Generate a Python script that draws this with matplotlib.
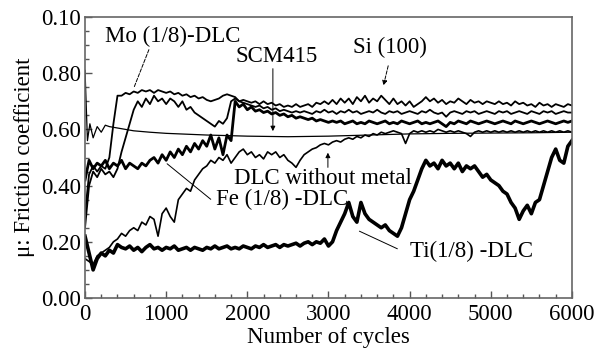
import matplotlib
matplotlib.use('Agg')
import matplotlib.pyplot as plt
import numpy as np
from matplotlib.ticker import MultipleLocator, FixedLocator, FixedFormatter

plt.rcParams['font.family'] = ['Liberation Serif', 'DejaVu Serif']

# sliding cycles, one reading every 50 cycles
cycles = np.arange(0, 6001, 50)

ti = [0.22, 0.16, 0.10, 0.14, 0.16, 0.15, 0.17, 0.16, 0.19, 0.18,
      0.175, 0.185, 0.17, 0.18, 0.165, 0.18, 0.19, 0.175, 0.18, 0.17,
      0.18, 0.175, 0.185, 0.17, 0.175, 0.18, 0.17, 0.18, 0.175, 0.17,
      0.18, 0.175, 0.185, 0.175, 0.18, 0.185, 0.175, 0.18, 0.175, 0.185,
      0.18, 0.175, 0.185, 0.18, 0.19, 0.18, 0.185, 0.19, 0.18, 0.19,
      0.185, 0.19, 0.195, 0.185, 0.195, 0.2, 0.19, 0.2, 0.195, 0.21,
      0.185, 0.2, 0.24, 0.27, 0.30, 0.34, 0.29, 0.27, 0.34, 0.30,
      0.28, 0.27, 0.26, 0.25, 0.26, 0.24, 0.23, 0.22, 0.25, 0.30,
      0.35, 0.38, 0.42, 0.46, 0.49, 0.47, 0.48, 0.46, 0.49, 0.47,
      0.48, 0.46, 0.48, 0.45, 0.47, 0.46, 0.47, 0.45, 0.43, 0.44,
      0.42, 0.41, 0.40, 0.38, 0.37, 0.34, 0.32, 0.28, 0.31, 0.33,
      0.30, 0.34, 0.35, 0.40, 0.45, 0.50, 0.53, 0.49, 0.48, 0.54,
      0.56]

fe = [0.42, 0.49, 0.46, 0.48, 0.47, 0.49, 0.46, 0.48, 0.47, 0.49,
      0.46, 0.48, 0.47, 0.46, 0.48, 0.47, 0.49, 0.50, 0.48, 0.51,
      0.49, 0.52, 0.50, 0.53, 0.51, 0.54, 0.52, 0.55, 0.53, 0.56,
      0.54, 0.58, 0.53, 0.57, 0.51, 0.58, 0.56, 0.70, 0.68, 0.69,
      0.67, 0.68, 0.665, 0.67, 0.66, 0.665, 0.655, 0.66, 0.65, 0.655,
      0.645, 0.65, 0.64, 0.645, 0.64, 0.635, 0.64, 0.63, 0.635, 0.63,
      0.625, 0.63, 0.625, 0.63, 0.62, 0.625, 0.63, 0.62, 0.625, 0.62,
      0.63, 0.625, 0.62, 0.625, 0.63, 0.62, 0.625, 0.62, 0.63, 0.625,
      0.62, 0.625, 0.63, 0.62, 0.625, 0.62, 0.625, 0.63, 0.62, 0.61,
      0.625, 0.62, 0.63, 0.625, 0.62, 0.63, 0.625, 0.62, 0.625, 0.63,
      0.625, 0.62, 0.625, 0.63, 0.625, 0.62, 0.63, 0.625, 0.62, 0.625,
      0.63, 0.625, 0.62, 0.625, 0.63, 0.625, 0.62, 0.625, 0.63, 0.625,
      0.63]

mo = [0.30, 0.44, 0.47, 0.45, 0.47, 0.46, 0.50, 0.62, 0.72, 0.72,
      0.73, 0.725, 0.735, 0.73, 0.74, 0.735, 0.74, 0.73, 0.74, 0.735,
      0.73, 0.735, 0.725, 0.73, 0.72, 0.725, 0.715, 0.72, 0.71, 0.715,
      0.705, 0.70, 0.705, 0.71, 0.72, 0.725, 0.72, 0.715, 0.70, 0.695,
      0.69, 0.685, 0.68, 0.685, 0.675, 0.68, 0.67, 0.675, 0.665, 0.67,
      0.665, 0.66, 0.665, 0.66, 0.665, 0.66, 0.655, 0.665, 0.66, 0.67,
      0.66, 0.665, 0.655, 0.665, 0.66, 0.67, 0.66, 0.665, 0.655, 0.66,
      0.665, 0.66, 0.67, 0.66, 0.655, 0.665, 0.66, 0.665, 0.655, 0.66,
      0.665, 0.66, 0.655, 0.665, 0.66, 0.67, 0.66, 0.655, 0.66, 0.645,
      0.66, 0.665, 0.66, 0.655, 0.665, 0.66, 0.665, 0.655, 0.66, 0.665,
      0.66, 0.655, 0.665, 0.66, 0.665, 0.655, 0.66, 0.665, 0.66, 0.655,
      0.665, 0.66, 0.655, 0.665, 0.66, 0.665, 0.655, 0.66, 0.665, 0.66,
      0.66]

si = [0.25, 0.40, 0.45, 0.43, 0.46, 0.44, 0.45, 0.43, 0.46, 0.52,
      0.57, 0.62, 0.67, 0.70, 0.68, 0.71, 0.69, 0.72, 0.70, 0.71,
      0.69, 0.71, 0.70, 0.68, 0.70, 0.67, 0.68, 0.66, 0.65, 0.64,
      0.63, 0.62, 0.61, 0.63, 0.62, 0.64, 0.70, 0.71, 0.70, 0.705,
      0.70, 0.695, 0.70, 0.69, 0.70, 0.69, 0.695, 0.685, 0.69, 0.68,
      0.685, 0.68, 0.69, 0.68, 0.685, 0.69, 0.68, 0.695, 0.69, 0.70,
      0.69, 0.705, 0.69, 0.71, 0.695, 0.71, 0.69, 0.715, 0.70, 0.72,
      0.695, 0.71, 0.70, 0.72, 0.705, 0.69, 0.71, 0.69, 0.70, 0.685,
      0.70, 0.68, 0.69, 0.70, 0.715, 0.70, 0.71, 0.695, 0.705, 0.69,
      0.70, 0.695, 0.71, 0.70, 0.69, 0.705, 0.695, 0.70, 0.69, 0.70,
      0.695, 0.69, 0.70, 0.69, 0.695, 0.685, 0.70, 0.69, 0.695, 0.685,
      0.69, 0.68, 0.695, 0.685, 0.69, 0.68, 0.69, 0.685, 0.68, 0.69,
      0.685]

dlc = [0.14, 0.13, 0.12, 0.15, 0.16, 0.17, 0.18, 0.20, 0.21, 0.23,
       0.22, 0.24, 0.25, 0.24, 0.27, 0.26, 0.29, 0.28, 0.22, 0.30,
       0.32, 0.29, 0.27, 0.35, 0.37, 0.39, 0.38, 0.42, 0.44, 0.46,
       0.47, 0.49, 0.48, 0.50, 0.49, 0.51, 0.48, 0.50, 0.52, 0.53,
       0.51, 0.52, 0.50, 0.51, 0.495, 0.52, 0.51, 0.52, 0.50, 0.51,
       0.49, 0.48, 0.465, 0.49, 0.51, 0.52, 0.53, 0.535, 0.545, 0.55,
       0.545, 0.555, 0.56, 0.555, 0.565, 0.57, 0.565, 0.575, 0.57, 0.58,
       0.575, 0.585, 0.58, 0.59, 0.585, 0.59, 0.595, 0.59, 0.585, 0.55,
       0.585, 0.595, 0.59, 0.595, 0.59, 0.595, 0.59, 0.60, 0.595, 0.59,
       0.595, 0.59, 0.595, 0.59, 0.585, 0.575, 0.59, 0.595, 0.59, 0.595,
       0.59, 0.595, 0.59, 0.595, 0.59, 0.595, 0.59, 0.595, 0.59, 0.595,
       0.59, 0.595, 0.59, 0.595, 0.59, 0.595, 0.59, 0.595, 0.59, 0.595,
       0.59]

# SCM415 is a smooth trace, fewer readings are enough
scm_cycles = [0, 30, 60, 100, 150, 200, 250, 300, 400, 600, 800,
              1000, 1500, 2000, 2500, 3000, 3500, 4000, 4500, 5000, 5500, 6000]
scm = [0.81, 0.56, 0.62, 0.57, 0.61, 0.59, 0.615, 0.61, 0.605, 0.595, 0.59,
       0.586, 0.58, 0.576, 0.574, 0.576, 0.58, 0.584, 0.586, 0.587, 0.588, 0.59]

ytick_vals = [0.0, 0.2, 0.4, 0.6, 0.8, 1.0]
ytick_labels = ['0.00', '0.20', '0.40', '0.60', '0.80', '0.10']

fs = 16.5

fig = plt.figure(figsize=(5.97, 3.53), dpi=100)
ax = fig.add_axes([0.1424, 0.1558, 0.8156, 0.796])

ax.plot(scm_cycles, scm, color='black', lw=0.9)
ax.plot(cycles, dlc, color='black', lw=1.2)
ax.plot(cycles, si, color='black', lw=1.3)
ax.plot(cycles, mo, color='black', lw=1.3)
ax.plot(cycles, fe, color='black', lw=2.0)
ax.plot(cycles, ti, color='black', lw=2.6)

ax.set_xlim(0, 6000)
ax.set_ylim(0, 1.0)
ax.xaxis.set_major_locator(MultipleLocator(1000))
ax.xaxis.set_minor_locator(MultipleLocator(200))
ax.yaxis.set_major_locator(FixedLocator(ytick_vals))
ax.yaxis.set_major_formatter(FixedFormatter(ytick_labels))
ax.yaxis.set_minor_locator(MultipleLocator(0.05))
ax.tick_params(which='both', direction='in', color='#555555', labelsize=fs)
ax.tick_params(which='major', length=5, width=1)
ax.tick_params(which='minor', length=3, width=1)
ax.tick_params(axis='x', pad=4)
ax.tick_params(axis='y', pad=3)
for s in ax.spines.values():
    s.set_color('#666666')
    s.set_linewidth(1.2)

ax.set_xlabel('Number of cycles', fontsize=fs, labelpad=2)
ax.set_ylabel('\u03bc: Friction coefficient', fontsize=fs, labelpad=4)

# labels and leaders
ax.text(1084, 0.932, 'Mo (1/8)-DLC', fontsize=fs, ha='center', va='center')
ax.annotate('', xy=(591, 0.740), xytext=(800, 0.893),
            arrowprops=dict(arrowstyle='-', lw=0.7, ls='--', color='black'))

ax.text(2365, 0.861, 'SCM415', fontsize=fs, ha='center', va='center')
ax.annotate('', xy=(2315, 0.584), xytext=(2315, 0.826),
            arrowprops=dict(arrowstyle='-|>', lw=0.7, color='black',
                            mutation_scale=7))

ax.text(3756, 0.89, 'Si (100)', fontsize=fs, ha='center', va='center')
ax.annotate('', xy=(3670, 0.747), xytext=(3744, 0.836),
            arrowprops=dict(arrowstyle='-|>', lw=0.7, ls='--', color='black',
                            mutation_scale=7))

ax.text(2931, 0.427, 'DLC without metal', fontsize=fs, ha='center', va='center')
ax.annotate('', xy=(2993, 0.527), xytext=(2993, 0.455),
            arrowprops=dict(arrowstyle='-|>', lw=0.7, color='black',
                            mutation_scale=7))

ax.text(2426, 0.352, 'Fe (1/8) -DLC', fontsize=fs, ha='center', va='center')
ax.annotate('', xy=(985, 0.484), xytext=(1576, 0.345),
            arrowprops=dict(arrowstyle='-', lw=0.7, color='black'))

ax.text(4766, 0.167, 'Ti(1/8) -DLC', fontsize=fs, ha='center', va='center')
ax.annotate('', xy=(3350, 0.242), xytext=(3880, 0.171),
            arrowprops=dict(arrowstyle='-', lw=0.7, color='black'))

fig.savefig('out.png', dpi=100)
